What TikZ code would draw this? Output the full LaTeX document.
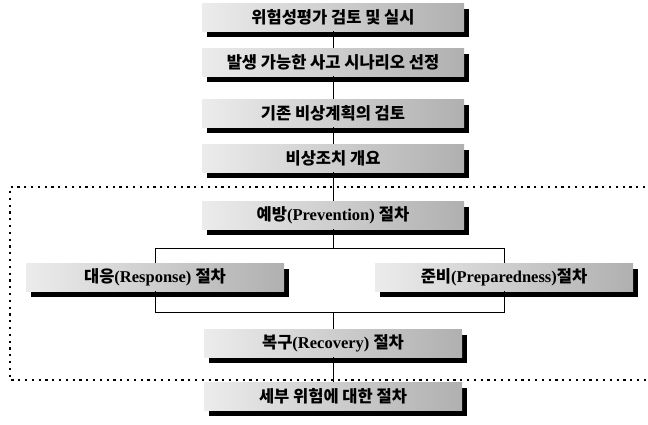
\documentclass[tikz,border=0pt]{standalone}
\usepackage{fontspec}
\setmainfont{Liberation Serif}
\newfontfamily\kr{Noto Sans CJK KR}
\usetikzlibrary{shadows}
\begin{document}
\begin{tikzpicture}[x=1pt,y=-1pt,
  box/.style={draw=none, left color=gray!15, right color=gray!62, minimum height=28pt, inner sep=0pt,
    font=\fontsize{16.5}{18}\selectfont\bfseries,
    drop shadow={shadow xshift=4.5pt, shadow yshift=-5.5pt, fill=black, opacity=1}},
  link/.style={line width=0.8pt, draw=black},
  frame/.style={line width=2.2pt, dash pattern=on 2.2pt off 4.6pt, draw=black}]
\useasboundingbox (0,0) rectangle (648,424);
% dotted frame
\draw[frame] (652,187) -- (10,187) -- (10,380) -- (652,380);
\coordinate (tl) at (155,248);
\coordinate (tr) at (504,248);
\coordinate (bl) at (155,312);
\coordinate (br) at (504,312);
% boxes
\node[box, minimum width=262pt] (b1) at (333,17) {\kr 위험성평가 검토 및 실시};
\node[box, minimum width=262pt] (b2) at (333,62) {\kr 발생 가능한 사고 시나리오 선정};
\node[box, minimum width=262pt] (b3) at (333,113) {\kr 기존 비상계획의 검토};
\node[box, minimum width=262pt] (b4) at (333,158) {\kr 비상조치 개요};
\node[box, minimum width=262pt] (b5) at (333,215) {{\kr 예방}(Prevention) {\kr 절차}};
\node[box, minimum width=258pt] (b6) at (155,277) {{\kr 대응}(Response) {\kr 절차}\hspace{18pt}};
\node[box, minimum width=258pt] (b7) at (504,277) {{\kr 준비}(Preparedness){\kr 절차}\hspace{46pt}};
\node[box, minimum width=258pt] (b8) at (333,343) {{\kr 복구}(Recovery) {\kr 절차}};
\node[box, minimum width=258pt] (b9) at (333,396) {\kr 세부 위험에 대한 절차};
% connectors
\draw[link] (b1.south) -- (b2.north);
\draw[link] (b2.south) -- (b3.north);
\draw[link] (b3.south) -- (b4.north);
\draw[link] (b4.south) -- (b5.north);
\draw[link] (b5.south) -- (b5.south |- tl);
\draw[link] (tl) -- (tr);
\draw[link] (tl) -- (b6.north);
\draw[link] (tr) -- (b7.north);
\draw[link] (b6.south) -- (bl) -- (br) -- (b7.south);
\draw[link] (b8.north) -- (b8.north |- bl);
\draw[link] (b8.south) -- (b9.north);
\end{tikzpicture}
\end{document}
